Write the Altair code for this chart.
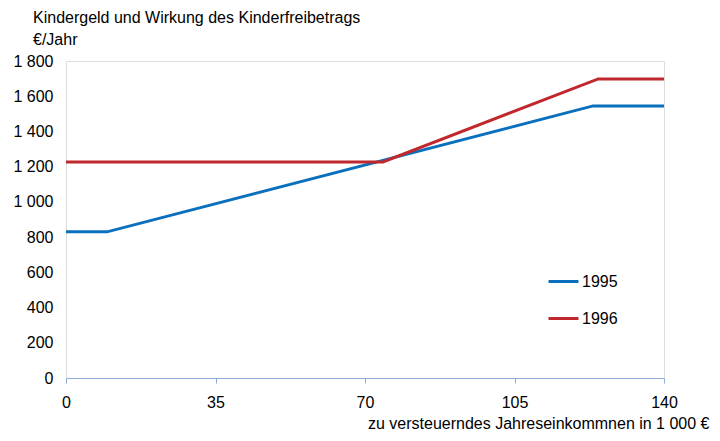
import altair as alt
import pandas as pd

x_1995 = [0, 9.6, 123.4, 140]
y_1995 = [830, 830, 1545, 1545]
x_1996 = [0, 74.2, 124.6, 140]
y_1996 = [1227, 1227, 1698, 1698]

rows = []
for i, (a, b) in enumerate(zip(x_1995, y_1995)):
    rows.append({"x": a, "y": b, "Jahr": "1995", "o": i})
for i, (a, b) in enumerate(zip(x_1996, y_1996)):
    rows.append({"x": a, "y": b, "Jahr": "1996", "o": i})
df = pd.DataFrame(rows)

FONT = "Liberation Sans"
FS = 16

chart = alt.Chart(df).mark_line(strokeWidth=3).encode(
    x=alt.X("x:Q", scale=alt.Scale(domain=[0, 140], nice=False),
            axis=alt.Axis(values=[0, 35, 70, 105, 140], grid=False, labelFlush=False,
                          domainColor="#8faadc", tickColor="#8faadc", tickSize=5,
                          labelFontSize=FS, labelPadding=11, labelColor="#000",
                          labelFont=FONT,
                          title="zu versteuerndes Jahreseinkommnen in 1 000 €",
                          titleFont=FONT, titleFontSize=FS, titleFontWeight="normal",
                          titleColor="#000", titleAlign="right", titleAnchor="end",
                          titleX=643, titleY=50, titleBaseline="alphabetic")),
    y=alt.Y("y:Q", scale=alt.Scale(domain=[0, 1800], nice=False),
            axis=alt.Axis(values=list(range(0, 1801, 200)), grid=False, domain=False,
                          ticks=False, labelFontSize=FS, labelPadding=13,
                          labelColor="#000", labelFont=FONT,
                          labelExpr="replace(format(datum.value, ','), ',', ' ')",
                          title=None)),
    color=alt.Color("Jahr:N",
                    scale=alt.Scale(domain=["1995", "1996"], range=["#0a70bd", "#c0282d"]),
                    legend=alt.Legend(title=None, orient="none", legendX=481, legendY=204,
                                      symbolType="stroke", symbolSize=900,
                                      symbolStrokeWidth=3, labelFontSize=FS,
                                      labelFont=FONT, labelColor="#000",
                                      labelOffset=2, rowPadding=12)),
    order="o:Q",
).properties(
    width=598, height=317,
    padding={"left": 58, "top": 53, "right": 48, "bottom": 52},
    autosize=alt.AutoSizeParams(type="none"),
    title=alt.TitleParams(text=["Kindergeld und Wirkung des Kinderfreibetrags", "€/Jahr"],
                          anchor="start", frame="group", dx=-33, fontSize=FS, font=FONT,
                          fontWeight="normal", color="#000", lineHeight=22,
                          offset=5),
).configure_view(fill="#dfe7f3", stroke=None).configure(background="white")

chart.save("out.html", embed_options={"renderer": "svg", "actions": False})
